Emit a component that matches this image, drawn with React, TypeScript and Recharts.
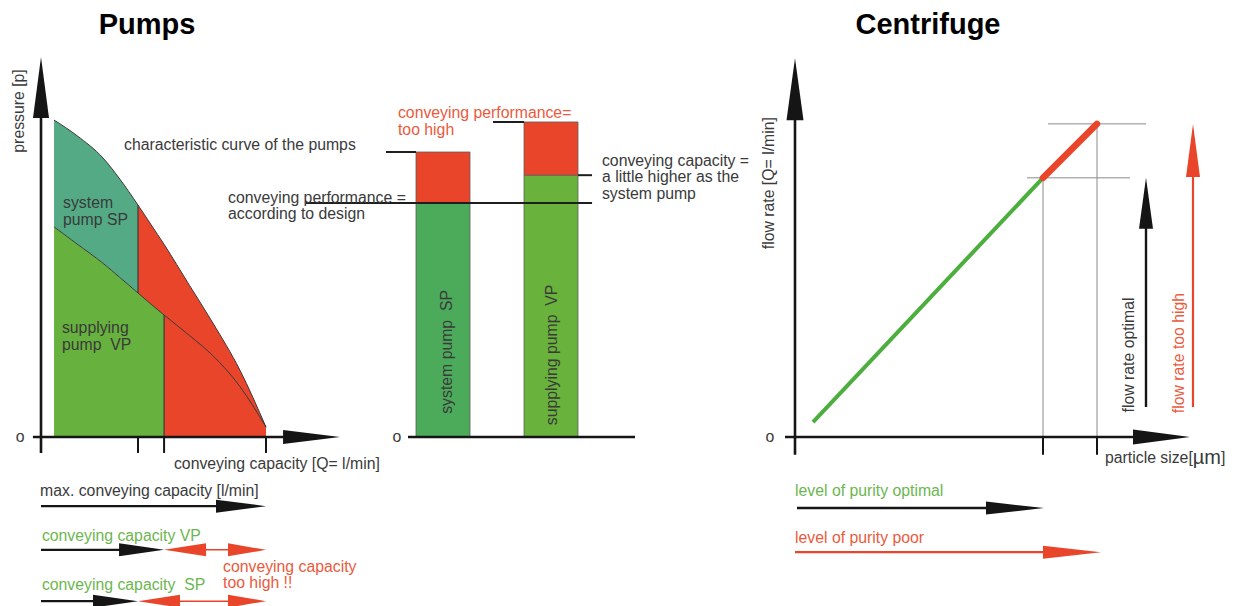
import React from 'react';
import { ComposedChart, Area, Line, Bar, Cell, XAxis, YAxis, ReferenceLine, ReferenceDot } from 'recharts';

const FONT = '"Liberation Sans", Arial, Helvetica, sans-serif';
const W = 1240;
const H = 606;
const FS = 15.8;
const TEXT = '#3a3a3a';
const AXIS = '#151515';
const RED = '#e8452b';
const RED_TEXT = '#ea5a3d';
const GREEN_TEXT = '#6cb650';
const TEAL = '#53aa85';
const GREEN = '#67b13e';
const BAR_SP = '#4caa5b';
const BAR_VP = '#69b23c';
const LINE_GREEN = '#4cae3c';
const GUIDE = '#8a8a8a';

// ---------- Pumps: characteristic curves (Q = conveying capacity, p = pressure)
const flowQ = [5.8, 16, 27.6, 35, 43.1, 49, 54.7, 66, 76.4, 88.4, 100];
const curveSystem = [83.4, 79.3, 73.4, 67.9, 61.05, 55.8, 50.7, 39.9, 30.0, 17.6, 2.6];
const curveSupply = [55.3, 50.8, 45.7, 42.0, 37.9, 34.9, 32.1, 26.7, 21.4, 13.3, 2.6];
const capacitySP = 43.1;
const capacityVP = 54.7;
const capacityMax = 100;

// ---------- Pumps: conveying performance bars
const barPumps = ['system pump  SP', 'supplying pump  VP'];
const barDesign = [61.6, 68.9];
const barTooHigh = [13.4, 14.0];
const designLevel = 61.6;

// ---------- Centrifuge: flow rate vs particle size
const particleSize = [4.5, 62, 75.5];
const flowOptimal: (number | null)[] = [3.9, 68.2, null];
const flowTooHigh: (number | null)[] = [null, 68.2, 82.4];

const leftData = flowQ.map((q, i) => ({
  q,
  sys: curveSystem[i],
  sup: curveSupply[i],
  teal: q <= capacitySP ? [curveSupply[i], curveSystem[i]] : null,
  green: q <= capacityVP ? [0, curveSupply[i]] : null,
  red: q >= capacitySP ? [0, curveSystem[i]] : null,
}));

const midData = barPumps.map((name, i) => ({
  pos: i + 1,
  name,
  design: barDesign[i],
  high: barTooHigh[i],
}));

const rightData = particleSize.map((u, i) => ({ u, opt: flowOptimal[i], high: flowTooHigh[i] }));

const optSize = particleSize[1];
const optFlow = flowOptimal[1] as number;
const highSize = particleSize[2];
const highFlow = flowTooHigh[2] as number;

const sysAt = (q: number) => curveSystem[flowQ.indexOf(q)];
const supAt = (q: number) => curveSupply[flowQ.indexOf(q)];

interface ArrowSpec {
  color: string;
  lw: number;
  endLen?: number;
  endW?: number;
  startLen?: number;
  startW?: number;
}

const makeArrow = (s: ArrowSpec) => (props: any) => {
  const { x1, y1, x2, y2 } = props;
  if ([x1, y1, x2, y2].some((v) => typeof v !== 'number' || isNaN(v))) return <g />;
  const len = Math.hypot(x2 - x1, y2 - y1) || 1;
  const ux = (x2 - x1) / len;
  const uy = (y2 - y1) / len;
  const nx = -uy;
  const ny = ux;
  const tri = (tx: number, ty: number, dx: number, dy: number, L: number, w: number) => {
    const bx = tx - dx * L;
    const by = ty - dy * L;
    return `${tx},${ty} ${bx + (nx * w) / 2},${by + (ny * w) / 2} ${bx - (nx * w) / 2},${by - (ny * w) / 2}`;
  };
  const ls = s.startLen ? s.startLen * 0.7 : 0;
  const le = s.endLen ? s.endLen * 0.7 : 0;
  return (
    <g>
      <line
        x1={x1 + ux * ls}
        y1={y1 + uy * ls}
        x2={x2 - ux * le}
        y2={y2 - uy * le}
        stroke={s.color}
        strokeWidth={s.lw}
      />
      {s.endLen ? <polygon points={tri(x2, y2, ux, uy, s.endLen, s.endW || 12)} fill={s.color} /> : null}
      {s.startLen ? <polygon points={tri(x1, y1, -ux, -uy, s.startLen, s.startW || 12)} fill={s.color} /> : null}
    </g>
  );
};

const plainLine = (color: string, lw: number) => (props: any) => {
  const { x1, y1, x2, y2 } = props;
  return <line x1={x1} y1={y1} x2={x2} y2={y2} stroke={color} strokeWidth={lw} />;
};

interface TextSpec {
  color?: string;
  size?: number;
  anchor?: 'start' | 'middle' | 'end';
  rotate?: boolean;
  lh?: number;
}

const textShape = (lines: string[], o: TextSpec = {}) => (props: any) => {
  const { cx, cy } = props;
  const lh = o.lh ?? 16.5;
  return (
    <text
      x={cx}
      y={cy}
      fill={o.color ?? TEXT}
      fontSize={o.size ?? FS}
      fontFamily={FONT}
      textAnchor={o.anchor ?? 'start'}
      dominantBaseline="central"
      transform={o.rotate ? `rotate(-90 ${cx} ${cy})` : undefined}
      style={{ whiteSpace: 'pre' }}
    >
      {lines.map((l, i) => (
        <tspan key={i} x={cx} dy={i === 0 ? 0 : lh}>
          {l}
        </tspan>
      ))}
    </text>
  );
};

const particleLabel = (props: any) => {
  const { cx, cy } = props;
  return (
    <text x={cx} y={cy} fill={TEXT} fontSize={FS} fontFamily={FONT} dominantBaseline="central">
      particle size[<tspan fontSize={20}>µm</tspan>]
    </text>
  );
};

const Txt = (x: number, y: number, shape: any, key: string) => (
  <ReferenceDot key={key} x={x} y={y} r={1} ifOverflow="visible" shape={shape} />
);

const Seg = (x1: number, y1: number, x2: number, y2: number, shape: any, key: string) => (
  <ReferenceLine
    key={key}
    segment={[
      { x: x1, y: y1 },
      { x: x2, y: y2 },
    ]}
    ifOverflow="visible"
    shape={shape}
  />
);

const axisArrowV = makeArrow({ color: AXIS, lw: 2.6, endLen: 61, endW: 16 });
const axisArrowH = makeArrow({ color: AXIS, lw: 2.6, endLen: 57, endW: 14 });
const blackArrow = (len: number) => makeArrow({ color: AXIS, lw: 2.4, endLen: len, endW: 13 });
const redDouble = (sLen: number) =>
  makeArrow({ color: RED, lw: 1.5, endLen: 38, endW: 13, startLen: sLen, startW: 13 });

const wrap: React.CSSProperties = { position: 'absolute', left: 0, top: 0, width: W, height: H };

export default function App() {
  return (
    <div style={{ position: 'absolute', left: 0, top: 0, width: W, height: H, background: '#fff', overflow: 'hidden' }}>
      {/* ---------------- Left: pump characteristic curves ---------------- */}
      <div style={wrap}>
        <ComposedChart
          width={W}
          height={H}
          data={leftData}
          margin={{ left: 41, right: W - 341, top: 57, bottom: H - 437 }}
        >
          <XAxis dataKey="q" type="number" domain={[0, 133.33]} allowDataOverflow hide />
          <YAxis type="number" domain={[0, 100]} allowDataOverflow hide />
          <Area dataKey="red" type="monotone" fill={RED} fillOpacity={1} stroke="none" isAnimationActive={false} />
          <Area dataKey="green" type="monotone" fill={GREEN} fillOpacity={1} stroke="none" isAnimationActive={false} />
          <Area dataKey="teal" type="monotone" fill={TEAL} fillOpacity={1} stroke="none" isAnimationActive={false} />
          <Line dataKey="sys" type="monotone" stroke="#3b3b3b" strokeWidth={1} dot={false} isAnimationActive={false} />
          <Line dataKey="sup" type="monotone" stroke="#3b3b3b" strokeWidth={1} dot={false} isAnimationActive={false} />
          {Seg(capacitySP, supAt(capacitySP), capacitySP, sysAt(capacitySP), plainLine('#3b3b3b', 1.2), 'vsp')}
          {Seg(capacityVP, 0, capacityVP, supAt(capacityVP), plainLine('#3b3b3b', 1.2), 'vvp')}
          {/* axes */}
          {Seg(0, -4.2, 0, 100, axisArrowV, 'yax')}
          {Seg(-3.6, 0, 132.9, 0, axisArrowH, 'xax')}
          {Seg(capacitySP, 0, capacitySP, -4.2, plainLine(AXIS, 2), 't1')}
          {Seg(capacityVP, 0, capacityVP, -4.2, plainLine(AXIS, 2), 't2')}
          {Seg(capacityMax, 0, capacityMax, -4.2, plainLine(AXIS, 2), 't3')}
          {/* bottom arrows */}
          {Seg(0, -18.2, capacityMax, -18.2, blackArrow(50), 'amax')}
          {Seg(0, -29.7, capacityVP, -29.7, blackArrow(45), 'avp')}
          {Seg(capacityVP, -29.7, capacityMax, -29.7, redDouble(42), 'rvp')}
          {Seg(0, -43.2, capacitySP, -43.2, blackArrow(45), 'asp')}
          {Seg(capacitySP, -43.2, capacityMax, -43.2, redDouble(42), 'rsp')}
          {/* labels */}
          {Txt(-10.2, 85.8, textShape(['pressure [p]'], { rotate: true, anchor: 'middle' }), 'lp')}
          {Txt(-9.3, 0.3, textShape(['o'], { anchor: 'middle' }), 'lo')}
          {Txt(36.9, 77.1, textShape(['characteristic curve of the pumps']), 'lcc')}
          {Txt(9.8, 61.8, textShape(['system', 'pump SP']), 'lsp')}
          {Txt(9.3, 28.9, textShape(['supplying', 'pump  VP']), 'lvp')}
          {Txt(59.1, -6.8, textShape(['conveying capacity [Q= l/min]']), 'lq')}
          {Txt(-0.4, -13.9, textShape(['max. conveying capacity [l/min]']), 'lmax')}
          {Txt(0.4, -25.8, textShape(['conveying capacity VP'], { color: GREEN_TEXT }), 'lcvp')}
          {Txt(80.9, -33.9, textShape(['conveying capacity', 'too high !!'], { color: RED_TEXT }), 'lth')}
          {Txt(0.4, -38.7, textShape(['conveying capacity  SP'], { color: GREEN_TEXT }), 'lcsp')}
        </ComposedChart>
      </div>

      {/* ---------------- Middle: performance bars ---------------- */}
      <div style={wrap}>
        <ComposedChart
          width={W}
          height={H}
          data={midData}
          margin={{ left: 389, right: W - 605, top: 57, bottom: H - 437 }}
        >
          <XAxis dataKey="pos" type="number" domain={[0.5, 2.5]} allowDataOverflow hide />
          <YAxis type="number" domain={[0, 100]} allowDataOverflow hide />
          <Bar dataKey="design" stackId="s" barSize={54} stroke="#5e5e5e" strokeWidth={0.8} isAnimationActive={false}>
            {midData.map((d, i) => (
              <Cell key={d.name} fill={i === 0 ? BAR_SP : BAR_VP} />
            ))}
          </Bar>
          <Bar dataKey="high" stackId="s" barSize={54} fill={RED} stroke="#5e5e5e" strokeWidth={0.8} isAnimationActive={false} />
          {Seg(0.676, 0, 2.778, 0, plainLine(AXIS, 2.6), 'mbase')}
          {Seg(-0.269, designLevel, 2.38, designLevel, plainLine('#1e1e1e', 2), 'mdes')}
          {Seg(0.472, barDesign[0] + barTooHigh[0], 0.75, barDesign[0] + barTooHigh[0], plainLine('#1e1e1e', 2), 'mt1')}
          {Seg(1.463, barDesign[1] + barTooHigh[1], 1.75, barDesign[1] + barTooHigh[1], plainLine('#1e1e1e', 2), 'mt2')}
          {Seg(2.25, barDesign[1], 2.38, barDesign[1], plainLine('#1e1e1e', 2), 'mt3')}
          {Txt(0.574, 0.3, textShape(['o'], { anchor: 'middle' }), 'mo')}
          {Txt(-0.99, 63.2, textShape(['conveying performance =', 'according to design']), 'mdl')}
          {Txt(0.583, 85.5, textShape(['conveying performance=', 'too high'], { color: RED_TEXT }), 'mth')}
          {Txt(2.472, 72.9, textShape(['conveying capacity =', 'a little higher as the', 'system pump']), 'mlh')}
          {Txt(1.03, 22.4, textShape([barPumps[0]], { rotate: true, anchor: 'middle' }), 'mb1')}
          {Txt(2.0, 21.6, textShape([barPumps[1]], { rotate: true, anchor: 'middle' }), 'mb2')}
        </ComposedChart>
      </div>

      {/* ---------------- Right: centrifuge ---------------- */}
      <div style={wrap}>
        <ComposedChart
          width={W}
          height={H}
          data={rightData}
          margin={{ left: 795, right: W - 1195, top: 57, bottom: H - 437 }}
        >
          <XAxis dataKey="u" type="number" domain={[0, 100]} allowDataOverflow hide />
          <YAxis type="number" domain={[0, 100]} allowDataOverflow hide />
          {Seg(optSize, 0, optSize, optFlow, plainLine(GUIDE, 1), 'g1')}
          {Seg(highSize, 0, highSize, highFlow, plainLine(GUIDE, 1), 'g2')}
          {Seg(58, optFlow, 83.75, optFlow, plainLine(GUIDE, 1), 'g3')}
          {Seg(63.25, highFlow, 87.75, highFlow, plainLine(GUIDE, 1), 'g4')}
          <Line dataKey="opt" type="linear" stroke={LINE_GREEN} strokeWidth={4} dot={false} isAnimationActive={false} />
          <Line
            dataKey="high"
            type="linear"
            stroke={RED}
            strokeWidth={6.5}
            strokeLinecap="round"
            dot={false}
            isAnimationActive={false}
          />
          {Seg(0, -4.7, 0, 99.7, makeArrow({ color: AXIS, lw: 2.6, endLen: 62, endW: 17 }), 'ryax')}
          {Seg(-2.5, 0, 98.75, 0, makeArrow({ color: AXIS, lw: 2.6, endLen: 57, endW: 15 }), 'rxax')}
          {Seg(optSize, 0, optSize, -4.7, plainLine(AXIS, 2), 'rt1')}
          {Seg(highSize, 0, highSize, -4.7, plainLine(AXIS, 2), 'rt2')}
          {Seg(87.75, 7.9, 87.75, optFlow, makeArrow({ color: AXIS, lw: 2.4, endLen: 51, endW: 14 }), 'aopt')}
          {Seg(99.5, 7.9, 99.5, highFlow, makeArrow({ color: RED, lw: 2.2, endLen: 53, endW: 14 }), 'ahigh')}
          {Seg(0.5, -18.7, optSize + 0.25, -18.7, makeArrow({ color: AXIS, lw: 2.4, endLen: 58, endW: 13 }), 'popt')}
          {Seg(0, -30.3, highSize + 1, -30.3, makeArrow({ color: RED, lw: 2.4, endLen: 58, endW: 13 }), 'ppoor')}
          {Txt(-6.25, 0.3, textShape(['o'], { anchor: 'middle' }), 'ro')}
          {Txt(-6.75, 66.8, textShape(['flow rate [Q= l/min]'], { rotate: true, anchor: 'middle' }), 'rfr')}
          {Txt(83.25, 21.6, textShape(['flow rate optimal'], { rotate: true, anchor: 'middle' }), 'rfo')}
          {Txt(95.75, 22.1, textShape(['flow rate too high'], { rotate: true, anchor: 'middle', color: RED_TEXT }), 'rfh')}
          {Txt(77.5, -5.3, particleLabel, 'rps')}
          {Txt(0, -13.9, textShape(['level of purity optimal'], { color: GREEN_TEXT }), 'rlo')}
          {Txt(0, -26.3, textShape(['level of purity poor'], { color: RED_TEXT }), 'rlp')}
        </ComposedChart>
      </div>

      {/* ---------------- Titles ---------------- */}
      <svg width={W} height={H} style={{ position: 'absolute', left: 0, top: 0, pointerEvents: 'none' }}>
        <text x={147} y={34} textAnchor="middle" fontFamily={FONT} fontWeight="bold" fontSize={29} fill="#000">
          Pumps
        </text>
        <text x={928} y={34} textAnchor="middle" fontFamily={FONT} fontWeight="bold" fontSize={29} fill="#000">
          Centrifuge
        </text>
      </svg>
    </div>
  );
}
